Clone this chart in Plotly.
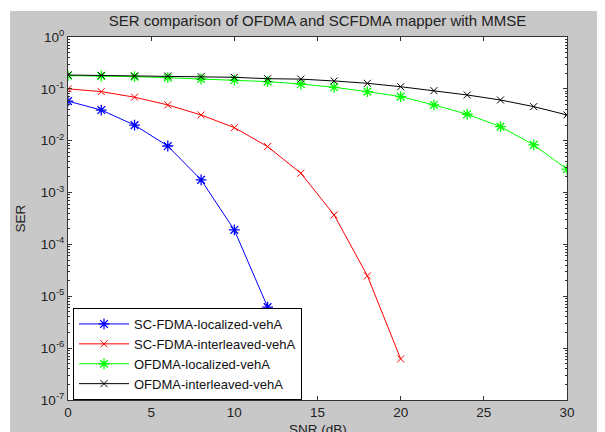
import plotly.graph_objects as go

snr_blue = [0, 2, 4, 6, 8, 10, 12]
ser_sc_loc = [0.058, 0.039, 0.020, 0.0079, 0.00176, 1.9e-4, 6.2e-6]

snr_red = [0, 2, 4, 6, 8, 10, 12, 14, 16, 18, 20]
ser_sc_int = [0.10, 0.0885, 0.069, 0.049, 0.0314, 0.0179, 0.0077, 0.00236, 3.7e-4, 2.48e-5, 6.2e-7]

snr_full = [0, 2, 4, 6, 8, 10, 12, 14, 16, 18, 20, 22, 24, 26, 28, 30]
ser_of_loc = [0.18, 0.177, 0.172, 0.164, 0.155, 0.148, 0.138, 0.124, 0.107, 0.0885,
              0.0708, 0.049, 0.0324, 0.0187, 0.0083, 0.00282]
ser_of_int = [0.185, 0.182, 0.177, 0.177, 0.172, 0.167, 0.157, 0.154, 0.142, 0.128,
              0.110, 0.0924, 0.0762, 0.061, 0.0454, 0.0314]

names = ["SC-FDMA-localized-vehA", "SC-FDMA-interleaved-vehA",
         "OFDMA-localized-vehA", "OFDMA-interleaved-vehA"]

decades = [-7, -6, -5, -4, -3, -2, -1, 0]
ytick_vals = [10.0 ** d for d in decades]
ytick_text = ["10<sup>%d</sup>" % d for d in decades]
yminor_vals = [m * 10.0 ** d for d in decades[:-1] for m in range(2, 10)]
xtick_vals = [0, 5, 10, 15, 20, 25, 30]

FONT = "Liberation Sans, Arial, sans-serif"
GRAY = "#c8c8c8"
TXT = "#222222"

# page body has an 8px margin; figure coordinates are screen minus 8
W, H = 597, 424
L, T = 60, 29
PW, PH = 499, 363

fig = go.Figure()
fig.add_trace(go.Scatter(x=snr_blue, y=ser_sc_loc, name=names[0], mode="lines+markers",
                         line=dict(color="#0000ff", width=1),
                         marker=dict(symbol="asterisk-open", size=9, color="#0000ff",
                                     line=dict(color="#0000ff", width=1.3))))
fig.add_trace(go.Scatter(x=snr_red, y=ser_sc_int, name=names[1], mode="lines+markers",
                         line=dict(color="#ff0000", width=1),
                         marker=dict(symbol="x-thin-open", size=7, color="#ff0000",
                                     line=dict(color="#ff0000", width=1))))
fig.add_trace(go.Scatter(x=snr_full, y=ser_of_loc, name=names[2], mode="lines+markers",
                         line=dict(color="#00ff00", width=1),
                         marker=dict(symbol="asterisk-open", size=9, color="#00ff00",
                                     line=dict(color="#00ff00", width=1.3))))
fig.add_trace(go.Scatter(x=snr_full, y=ser_of_int, name=names[3], mode="lines+markers",
                         line=dict(color="#000000", width=1),
                         marker=dict(symbol="x-thin-open", size=7, color="#000000",
                                     line=dict(color="#000000", width=1))))

fig.update_layout(
    width=W, height=H,
    margin=dict(l=L, r=W - L - PW, t=T, b=H - T - PH, autoexpand=False),
    paper_bgcolor=GRAY, plot_bgcolor="white",
    font=dict(family=FONT, size=13, color=TXT),
    title=dict(text="SER comparison of OFDMA and SCFDMA mapper with MMSE",
               x=0.5, xref="paper", xanchor="center", y=1 - 13 / H, yanchor="middle",
               font=dict(size=15, color=TXT)),
    showlegend=True,
    legend=dict(x=5 / PW, y=0.0, xanchor="left", yanchor="bottom",
                bgcolor="white", bordercolor="black", borderwidth=1,
                font=dict(size=13, color="#111111"), itemwidth=50,
                tracegroupgap=0),
    xaxis=dict(range=[0, 30], tickvals=xtick_vals, ticks="inside", ticklen=4,
               tickcolor="#333333", automargin=False,
               showline=True, linecolor="#333333", linewidth=1, mirror="ticks",
               showgrid=False, zeroline=False, tickfont=dict(size=13.5)),
    yaxis=dict(type="log", range=[-7, 0], tickvals=ytick_vals, ticktext=ytick_text,
               ticks="inside", ticklen=4, tickcolor="#333333", automargin=False,
               minor=dict(tickvals=yminor_vals, ticks="inside", ticklen=2,
                          tickcolor="#333333", showgrid=False),
               showline=True, linecolor="#333333", linewidth=1, mirror="ticks",
               showgrid=False, zeroline=False, tickfont=dict(size=13.5)),
    annotations=[
        dict(text="SER", xref="paper", yref="paper", x=(12 - L) / PW, y=0.5,
             xanchor="center", yanchor="middle", textangle=-90, showarrow=False,
             font=dict(size=13.5, color=TXT)),
        dict(text="SNR (dB)", xref="paper", yref="paper", x=0.5, y=-29 / PH,
             xanchor="center", yanchor="middle", showarrow=False,
             font=dict(size=13.5, color=TXT)),
    ],
    shapes=[
        dict(type="rect", xref="paper", yref="paper", x0=-0.2, x1=(2 - L) / PW,
             y0=-0.2, y1=1.2, fillcolor="white", line=dict(width=0), layer="below"),
        dict(type="rect", xref="paper", yref="paper", x0=-0.2, x1=1.2,
             y0=(T + PH - 3) / PH, y1=1.2, fillcolor="white", line=dict(width=0),
             layer="below"),
    ],
)

fig.write_html("out.html")
